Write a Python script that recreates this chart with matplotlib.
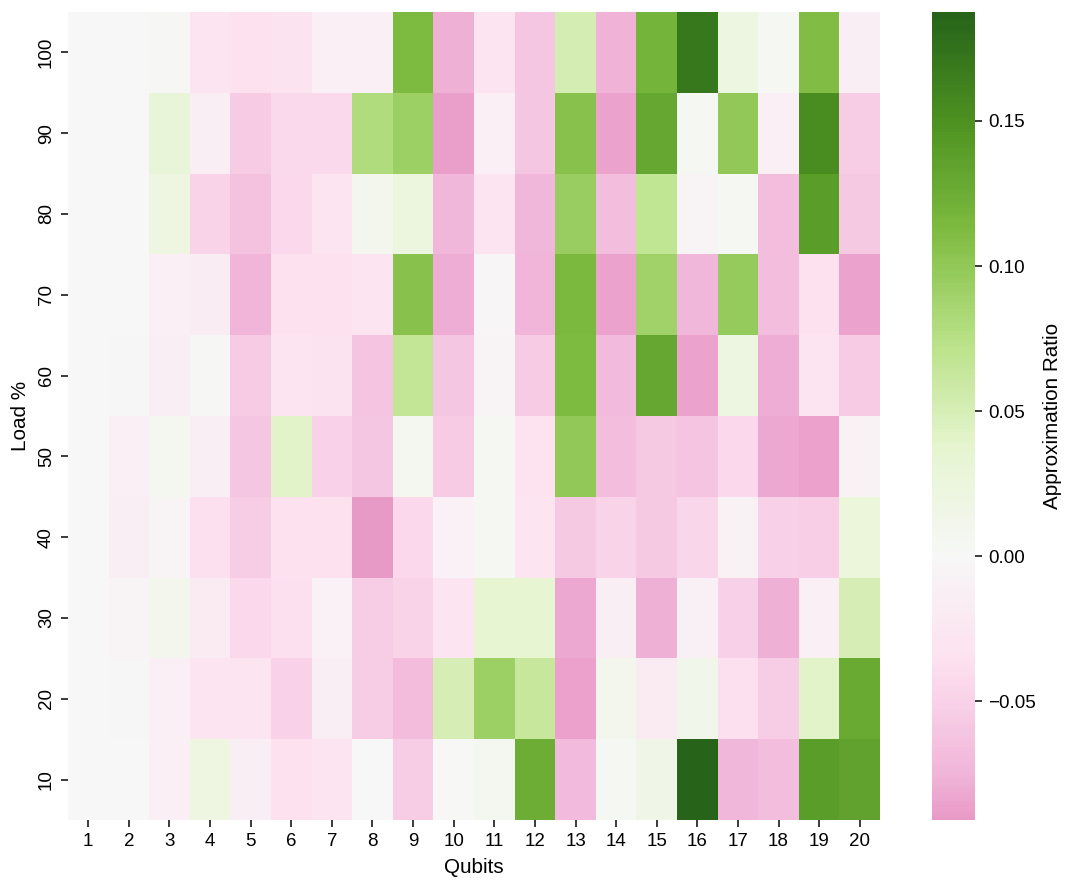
import numpy as np
import pandas as pd
import matplotlib
matplotlib.use("Agg")
import matplotlib.pyplot as plt
import seaborn as sns

# ============================================
# Datos: ratio de aproximación por carga (%) y nº de qubits
# ============================================
qubits = list(range(1, 21))
loads = [100, 90, 80, 70, 60, 50, 40, 30, 20, 10]

load_100 = [0.0, 0.0, 0.002, -0.03, -0.035, -0.033, -0.012, -0.012, 0.113, -0.078,
            -0.03, -0.06, 0.052, -0.076, 0.12, 0.17, 0.022, 0.003, 0.11, -0.013]
load_90 = [0.0, 0.0, 0.03, -0.013, -0.057, -0.043, -0.043, 0.08, 0.092, -0.088,
           -0.012, -0.06, 0.107, -0.085, 0.13, 0.003, 0.1, -0.012, 0.152, -0.055]
load_80 = [0.0, 0.0, 0.02, -0.048, -0.065, -0.045, -0.028, 0.01, 0.025, -0.073,
           -0.028, -0.073, 0.095, -0.068, 0.068, -0.006, 0.004, -0.068, 0.14, -0.058]
load_70 = [0.0, -0.001, -0.012, -0.017, -0.075, -0.035, -0.036, -0.03, 0.105, -0.08,
           -0.003, -0.075, 0.115, -0.085, 0.09, -0.073, 0.097, -0.068, -0.035, -0.085]
load_60 = [0.0, -0.002, -0.014, 0.002, -0.056, -0.03, -0.033, -0.062, 0.066, -0.06,
           -0.006, -0.057, 0.113, -0.071, 0.13, -0.085, 0.022, -0.08, -0.028, -0.056]
load_50 = [0.0, -0.012, 0.008, -0.013, -0.06, 0.04, -0.05, -0.06, 0.006, -0.057,
           0.005, -0.034, 0.1, -0.068, -0.058, -0.062, -0.044, -0.083, -0.086, -0.008]
load_40 = [0.0, -0.015, -0.004, -0.037, -0.055, -0.036, -0.036, -0.091, -0.044, -0.01,
           0.005, -0.028, -0.058, -0.048, -0.058, -0.046, -0.008, -0.052, -0.053, 0.027]
load_30 = [0.0, -0.004, 0.01, -0.02, -0.045, -0.037, -0.01, -0.055, -0.048, -0.03,
           0.035, 0.035, -0.083, -0.013, -0.078, -0.011, -0.052, -0.079, -0.012, 0.05]
load_20 = [0.0, -0.002, -0.012, -0.03, -0.03, -0.05, -0.015, -0.055, -0.07, 0.05,
           0.093, 0.063, -0.086, 0.012, -0.02, 0.013, -0.037, -0.055, 0.04, 0.127]
load_10 = [0.0, -0.001, -0.012, 0.02, -0.013, -0.036, -0.032, 0.0, -0.055, 0.001,
           0.009, 0.125, -0.071, 0.004, 0.015, 0.1876, -0.073, -0.068, 0.14, 0.135]

rows = [load_100, load_90, load_80, load_70, load_60,
        load_50, load_40, load_30, load_20, load_10]
df = pd.DataFrame(rows, index=loads, columns=qubits)

# ============================================
# Figura (dpi alto, tamaño de letra por defecto)
# ============================================
plt.rcParams["font.family"] = ["Liberation Sans", "DejaVu Sans"]
plt.rcParams["axes.labelsize"] = 11

DPI = 135
fig = plt.figure(figsize=(1079 / DPI, 889 / DPI), dpi=DPI)
ax = fig.add_axes([0.063, 0.0776, 0.7526, 0.909])
cax = fig.add_axes([0.8638, 0.0776, 0.0399, 0.909])

sns.heatmap(df, cmap="PiYG", center=0, ax=ax, cbar_ax=cax,
            cbar_kws={"label": "Approximation Ratio"})

ax.set_xlabel("Qubits")
ax.set_ylabel("Load %")

fig.savefig("out.png", dpi=DPI)
